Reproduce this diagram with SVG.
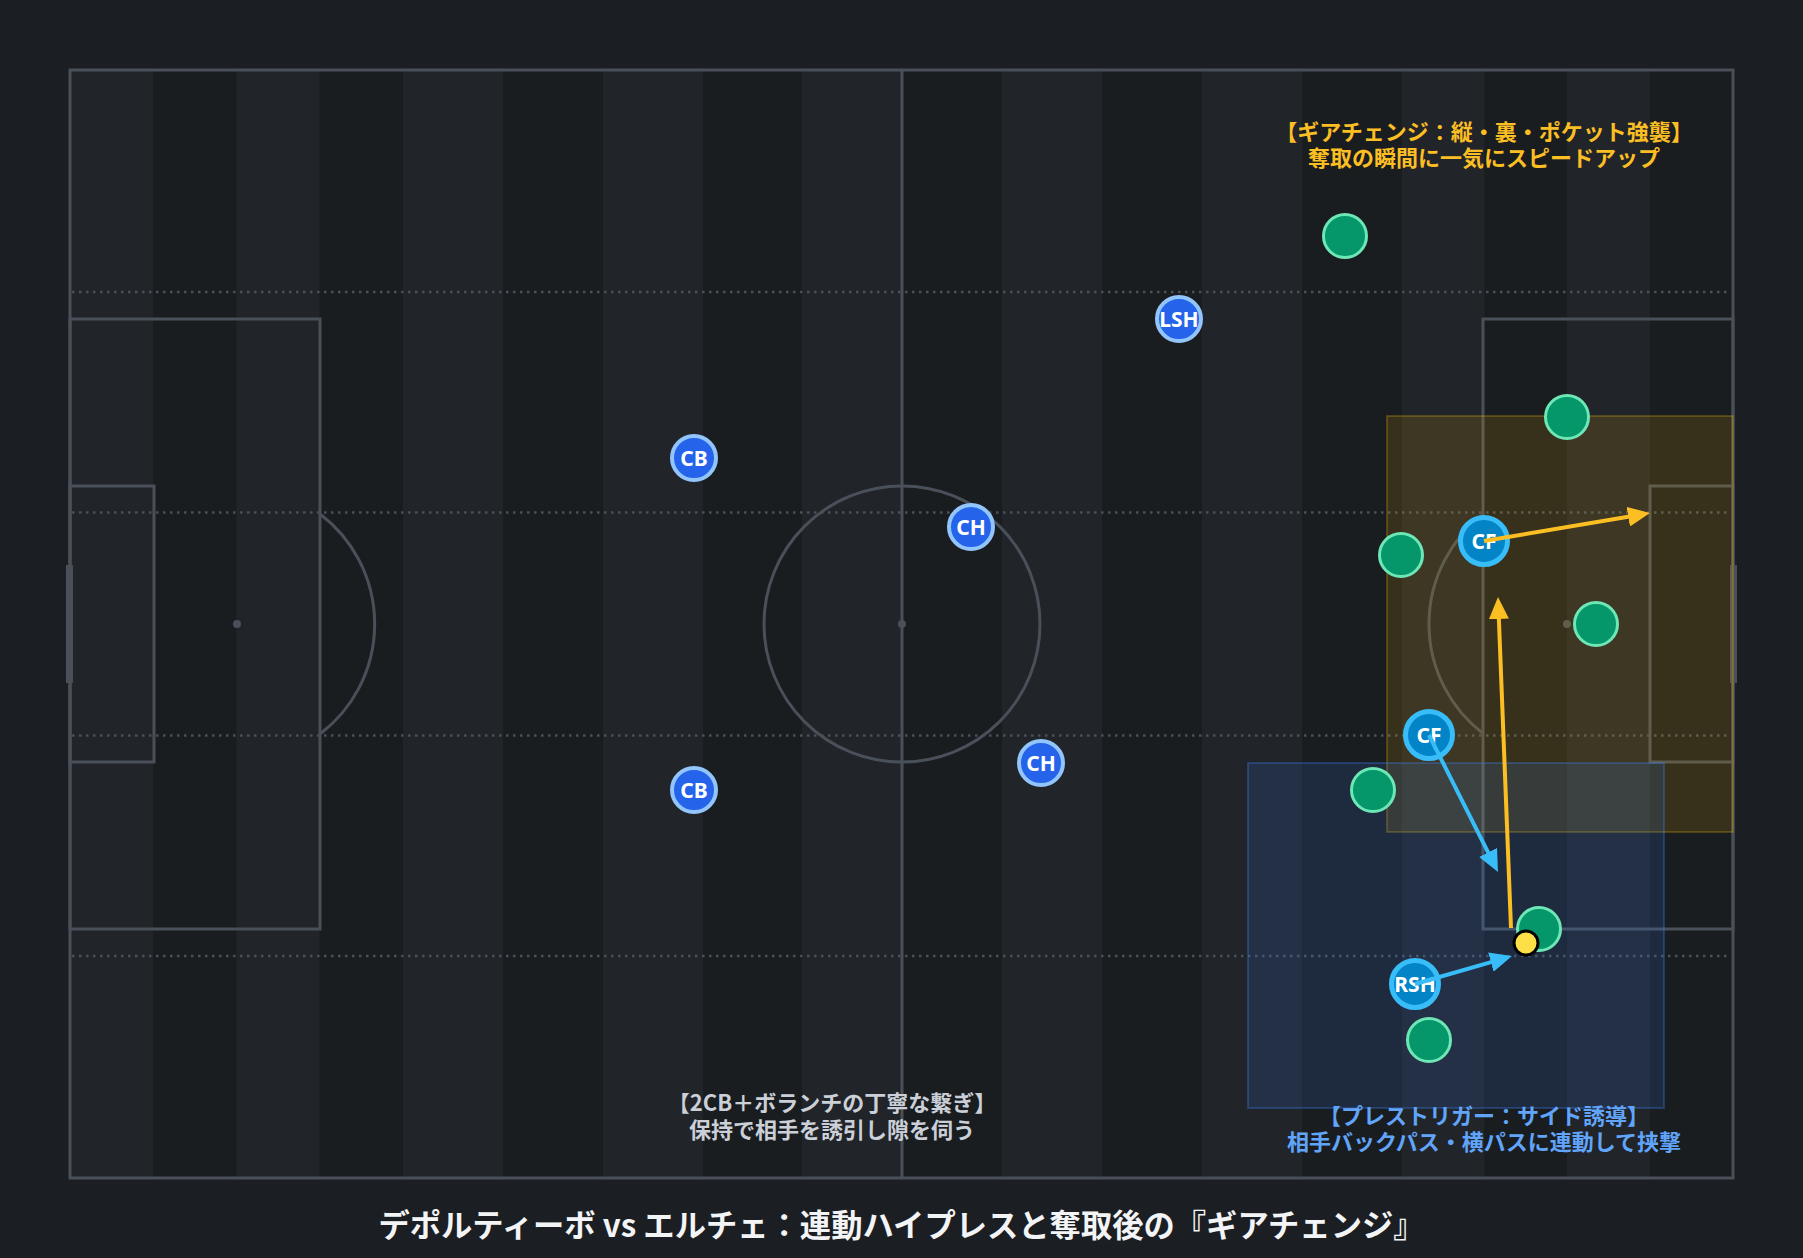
<svg xmlns="http://www.w3.org/2000/svg" width="1803" height="1258" viewBox="0 0 1803 1258">
<defs>
<style>
.ln{fill:none;stroke:#4a5059;stroke-width:3}
.dot{fill:none;stroke:#4a5059;stroke-width:2.5;stroke-dasharray:2.5 4.5}
.sl{fill:#212429}
.sd{fill:#1a1d20}
.blue circle{fill:#2563eb;stroke:#93c5fd;stroke-width:4}
.cyan circle{fill:#0284c7;stroke:#38bdf8;stroke-width:5}
.opp circle{fill:#059669;stroke:#6ee7b7;stroke-width:3}
.lbl{font-family:"Noto Sans","Noto Sans CJK JP",sans-serif;font-weight:700;font-size:21px;fill:#ffffff;text-anchor:middle}
.ann{font-family:"Noto Sans CJK JP","Noto Sans",sans-serif;font-weight:700;font-size:22px;text-anchor:middle}
.ay{stroke:#fbbf24;stroke-width:4;fill:none;marker-end:url(#hy)}
.ab{stroke:#38bdf8;stroke-width:4;fill:none;marker-end:url(#hb)}
</style>
<marker id="hy" markerUnits="userSpaceOnUse" markerWidth="22" markerHeight="20" viewBox="0 0 22 20" refX="12" refY="10" orient="auto"><path d="M0,0 L22,10 L0,20 z" fill="#fbbf24"/></marker>
<marker id="hb" markerUnits="userSpaceOnUse" markerWidth="22" markerHeight="20" viewBox="0 0 22 20" refX="12" refY="10" orient="auto"><path d="M0,0 L22,10 L0,20 z" fill="#38bdf8"/></marker>
</defs>
<rect x="0" y="0" width="1803" height="1258" fill="#1b1e22"/>
<g id="pitch">
<rect class="sl" x="70" y="70" width="83.25" height="1108"/>
<rect class="sd" x="153.25" y="70" width="83.25" height="1108"/>
<rect class="sl" x="236.5" y="70" width="83.25" height="1108"/>
<rect class="sd" x="319.75" y="70" width="83.25" height="1108"/>
<rect class="sl" x="403" y="70" width="100" height="1108"/>
<rect class="sd" x="503" y="70" width="100" height="1108"/>
<rect class="sl" x="603" y="70" width="100" height="1108"/>
<rect class="sd" x="703" y="70" width="99" height="1108"/>
<rect class="sl" x="802" y="70" width="100" height="1108"/>
<rect class="sd" x="902" y="70" width="100" height="1108"/>
<rect class="sl" x="1002" y="70" width="100" height="1108"/>
<rect class="sd" x="1102" y="70" width="100" height="1108"/>
<rect class="sl" x="1202" y="70" width="100" height="1108"/>
<rect class="sd" x="1302" y="70" width="100" height="1108"/>
<rect class="sl" x="1402" y="70" width="82.5" height="1108"/>
<rect class="sd" x="1484.5" y="70" width="82.5" height="1108"/>
<rect class="sl" x="1567" y="70" width="83" height="1108"/>
<rect class="sd" x="1650" y="70" width="83" height="1108"/>
<line class="dot" x1="72" y1="292" x2="1731" y2="292"/>
<line class="dot" x1="72" y1="512.5" x2="1731" y2="512.5"/>
<line class="dot" x1="72" y1="735.5" x2="1731" y2="735.5"/>
<line class="dot" x1="72" y1="956" x2="1731" y2="956"/>
<rect class="ln" x="70" y="70" width="1663" height="1108"/>
<line class="ln" x1="902" y1="70" x2="902" y2="1178"/>
<circle class="ln" cx="902" cy="624" r="138"/>
<circle cx="902" cy="624" r="4" fill="#4a5059"/>
<rect class="ln" x="70" y="319" width="250" height="610"/>
<rect class="ln" x="70" y="486" width="84" height="276"/>
<circle cx="237" cy="624" r="4" fill="#4a5059"/>
<path class="ln" d="M320,514 A138,138 0 0 1 320,734"/>
<rect x="66" y="565" width="7" height="118" fill="#4a5059"/>
<rect class="ln" x="1483" y="319" width="250" height="610"/>
<rect class="ln" x="1650" y="486" width="83" height="276"/>
<circle cx="1567" cy="624" r="4" fill="#4a5059"/>
<path class="ln" d="M1483,514.5 A138,138 0 0 0 1483,733.5"/>
<rect x="1730" y="565" width="7" height="118" fill="#4a5059"/>
</g>
<g id="zones">
<rect id="zone-gear" x="1387" y="416" width="346" height="416" fill="#eab308" fill-opacity="0.14" stroke="#eab308" stroke-opacity="0.25" stroke-width="2"/>
<rect id="zone-press" x="1248" y="763" width="416" height="345" fill="#3b82f6" fill-opacity="0.14" stroke="#3b82f6" stroke-opacity="0.3" stroke-width="2"/>
</g>
<g id="opponents" class="opp">
<g id="opp1"><circle cx="1345" cy="236" r="21.5"/></g>
<g id="opp2"><circle cx="1567" cy="417" r="21.5"/></g>
<g id="opp3"><circle cx="1401" cy="555" r="21.5"/></g>
<g id="opp4"><circle cx="1596" cy="624" r="21.5"/></g>
<g id="opp5"><circle cx="1373" cy="790" r="21.5"/></g>
<g id="opp6"><circle cx="1539" cy="929" r="21.5"/></g>
<g id="opp7"><circle cx="1429" cy="1040" r="21.5"/></g>
</g>
<g id="team">
<g id="cb1" class="blue"><circle cx="694" cy="458" r="22"/><text class="lbl" x="694" y="465.5">CB</text></g>
<g id="cb2" class="blue"><circle cx="694" cy="790" r="22"/><text class="lbl" x="694" y="797.5">CB</text></g>
<g id="ch1" class="blue"><circle cx="971" cy="527" r="22"/><text class="lbl" x="971" y="534.5">CH</text></g>
<g id="ch2" class="blue"><circle cx="1041" cy="763" r="22"/><text class="lbl" x="1041" y="770.5">CH</text></g>
<g id="lsh" class="blue"><circle cx="1179" cy="319" r="22"/><text class="lbl" x="1179" y="326.5">LSH</text></g>
<g id="cf1" class="cyan"><circle cx="1484" cy="541" r="23.5"/><text class="lbl" x="1484" y="548.5">CF</text></g>
<g id="cf2" class="cyan"><circle cx="1429" cy="735" r="23.5"/><text class="lbl" x="1429" y="742.5">CF</text></g>
<g id="rsh" class="cyan"><circle cx="1415" cy="984" r="23.5"/><text class="lbl" x="1415" y="991.5">RSH</text></g>
</g>
<g id="connectors">
<line class="ay" x1="1484" y1="541" x2="1640.1" y2="514.7"/>
<line class="ay" x1="1511" y1="928" x2="1498.4" y2="607"/>
<line class="ab" x1="1429" y1="735" x2="1493.5" y2="863.1"/>
<line class="ab" x1="1415" y1="984" x2="1502.4" y2="958.8"/>
</g>
<g id="ball"><circle cx="1526" cy="943" r="12" fill="#fde047" stroke="#000000" stroke-width="3"/></g>
<g id="annotations">
<text class="ann" fill="#fbbf24" x="1484" y="140"><tspan x="1484">【ギアチェンジ：縦・裏・ポケット強襲】</tspan><tspan x="1484" dy="26">奪取の瞬間に一気にスピードアップ</tspan></text>
<text class="ann" fill="#60a5fa" x="1484" y="1124"><tspan x="1484">【プレストリガー：サイド誘導】</tspan><tspan x="1484" dy="26">相手バックパス・横パスに連動して挟撃</tspan></text>
<text class="ann" fill="#cbd0d8" x="832" y="1111"><tspan x="832">【2CB＋ボランチの丁寧な繋ぎ】</tspan><tspan x="832" dy="27">保持で相手を誘引し隙を伺う</tspan></text>
</g>
<text id="title" x="901.5" y="1237" font-family="'Noto Sans CJK JP','Noto Sans',sans-serif" font-weight="700" font-size="31.3" fill="#f3f4f6" text-anchor="middle">デポルティーボ vs エルチェ：連動ハイプレスと奪取後の『ギアチェンジ』</text>
</svg>
